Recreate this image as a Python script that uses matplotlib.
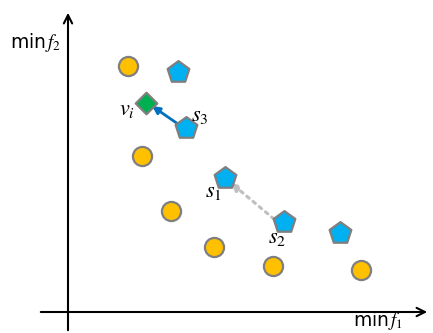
import matplotlib.pyplot as plt

plt.rcParams['mathtext.fontset'] = 'stix'

# existing solutions (circles)
circle_f1 = [60, 74, 103, 146, 205, 293]
circle_f2 = [246, 156, 101, 65, 46, 42]

# candidate solutions (pentagons)
pent_f1 = [110, 118, 157, 216, 272]
pent_f2 = [240, 184, 134, 90, 79]
pent_names = ['', '$s_3$', '$s_1$', '$s_2$', '']

# reference vector
v_f1 = [78]
v_f2 = [209]

fig = plt.figure(figsize=(4.33, 3.33), dpi=100)
ax = fig.add_axes([0, 0, 1, 1])
ax.set_xlim(-68, 365)
ax.set_ylim(-21, 312)
ax.axis('off')

# axes with arrows
ax.annotate('', xy=(362, 0), xytext=(-30, 0),
            arrowprops=dict(arrowstyle='->', color='black', lw=1.5, mutation_scale=15))
ax.annotate('', xy=(0, 302), xytext=(0, -21),
            arrowprops=dict(arrowstyle='->', color='black', lw=1.5, mutation_scale=15))
ax.text(-32, 270, r'min$\,f_2$', fontsize=13.5, ha='center', va='center')
ax.text(310, -9, r'min$\,f_1$', fontsize=13.5, ha='center', va='center')

ax.scatter(circle_f1, circle_f2, s=190, c='#FFC000', edgecolors='#7F7F7F', linewidths=1.6, zorder=3)
ax.scatter(pent_f1, pent_f2, s=270, marker='p', c='#00B0F0', edgecolors='#7F7F7F', linewidths=1.6, zorder=3)
ax.scatter(v_f1, v_f2, s=120, marker='D', c='#00B050', edgecolors='#7F7F7F', linewidths=1.6, zorder=3)

# arrows s3 -> v_i and s2 -> s1
ax.annotate('', xy=(v_f1[0] + 6, v_f2[0] - 3), xytext=(pent_f1[1] - 8, pent_f2[1] + 4),
            arrowprops=dict(arrowstyle='-|>', color='#0070C0', lw=2, mutation_scale=11,
                            shrinkA=0, shrinkB=0), zorder=2)
ax.annotate('', xy=(pent_f1[2] + 6, pent_f2[2] - 5), xytext=(pent_f1[3] - 10, pent_f2[3] + 3),
            arrowprops=dict(arrowstyle='-|>', color='#BFBFBF', lw=2.2, ls=':', mutation_scale=11,
                            shrinkA=0, shrinkB=0), zorder=2)

ax.text(67, 202, r'$v_i$', fontsize=16, ha='right', va='center')
ax.text(pent_f1[1] + 14, pent_f2[1] + 12, pent_names[1], fontsize=16, ha='center', va='center')
ax.text(pent_f1[2] - 12, pent_f2[2] - 14, pent_names[2], fontsize=16, ha='center', va='center')
ax.text(pent_f1[3] - 7, pent_f2[3] - 16, pent_names[3], fontsize=16, ha='center', va='center')

fig.savefig('out.png', dpi=100)
